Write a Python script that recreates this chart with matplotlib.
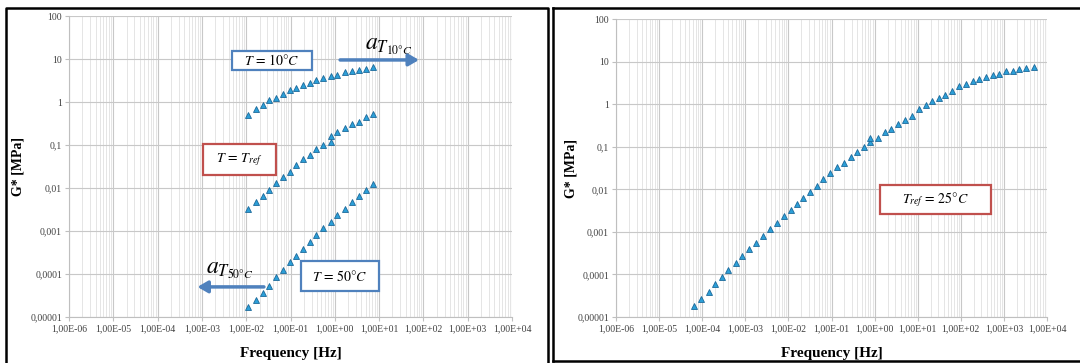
import matplotlib.pyplot as plt
from matplotlib.patches import Rectangle
from matplotlib.lines import Line2D
from matplotlib.ticker import FixedLocator, FixedFormatter, LogLocator, NullFormatter

# frequency sweeps at three temperatures (left panel)
freq_left = [0.011, 0.0163, 0.024, 0.0324, 0.046, 0.067, 0.095, 0.135, 0.19, 0.27,
             0.38, 0.55, 0.81, 1.12, 1.7, 2.4, 3.5, 5.0, 7.3]
g_10 = [0.51, 0.69, 0.85, 1.09, 1.24, 1.5, 1.9, 2.1, 2.5, 2.8,
        3.2, 3.6, 4.0, 4.3, 4.9, 5.4, 5.6, 6.0, 6.6]
freq_ref = [0.011, 0.0163, 0.024, 0.0324, 0.046, 0.067, 0.095, 0.135, 0.19, 0.27,
            0.38, 0.55, 0.81, 0.81, 1.12, 1.7, 2.4, 3.5, 5.0, 7.3]
g_ref = [0.0032, 0.0047, 0.0065, 0.0091, 0.0134, 0.018, 0.024, 0.035, 0.047, 0.06,
         0.08, 0.1, 0.12, 0.16, 0.2, 0.25, 0.30, 0.35, 0.45, 0.53]
g_50 = [1.74e-5, 2.5e-5, 3.6e-5, 5.4e-5, 8.3e-5, 1.22e-4, 1.87e-4, 2.6e-4, 3.8e-4, 5.5e-4,
        7.9e-4, 1.15e-3, 1.6e-3, 2.3e-3, 3.3e-3, 4.8e-3, 6.6e-3, 9.1e-3, 1.26e-2]

# master curve at Tref = 25 C (right panel)
freq_master = [6.4e-5, 9.6e-5, 1.43e-4, 2.0e-4, 2.9e-4, 4.0e-4, 6.0e-4, 8.6e-4, 1.23e-3, 1.8e-3,
               2.6e-3, 3.7e-3, 5.3e-3, 7.7e-3, 1.12e-2, 1.55e-2, 2.2e-2, 3.2e-2, 4.5e-2, 6.5e-2,
               9.3e-2, 0.133, 0.19, 0.28, 0.40, 0.57, 0.79, 0.79, 1.17, 1.7,
               2.4, 3.4, 5.1, 7.3, 11, 15.6, 22, 31, 44, 63,
               89, 133, 190, 270, 390, 550, 790, 1130, 1600, 2300,
               3300, 4900]
g_master = [1.8e-5, 2.6e-5, 3.9e-5, 5.8e-5, 8.6e-5, 1.26e-4, 1.9e-4, 2.7e-4, 3.9e-4, 5.5e-4,
            8.1e-4, 1.15e-3, 1.63e-3, 2.3e-3, 3.2e-3, 4.5e-3, 6.4e-3, 8.7e-3, 1.2e-2, 1.74e-2,
            0.0237, 0.033, 0.042, 0.057, 0.076, 0.1, 0.13, 0.16, 0.16, 0.22,
            0.26, 0.34, 0.42, 0.53, 0.78, 0.95, 1.18, 1.41, 1.65, 2.05,
            2.6, 3.0, 3.5, 4.0, 4.3, 4.8, 5.2, 5.9, 6.1, 6.7,
            6.9, 7.4]

x_ticks = [1e-6, 1e-5, 1e-4, 1e-3, 1e-2, 1e-1, 1e0, 1e1, 1e2, 1e3, 1e4]
x_labels = ['1,00E-06', '1,00E-05', '1,00E-04', '1,00E-03', '1,00E-02', '1,00E-01',
            '1,00E+00', '1,00E+01', '1,00E+02', '1,00E+03', '1,00E+04']
y_ticks = [1e-5, 1e-4, 1e-3, 1e-2, 1e-1, 1, 10, 100]
y_labels = ['0,00001', '0,0001', '0,001', '0,01', '0,1', '1', '10', '100']

BLUE = '#4F81BD'
RED = '#C0504D'
MARKER = dict(linestyle='none', marker='^', markersize=4.2,
              markerfacecolor='#2C9FD8', markeredgecolor='#1D6A9A', markeredgewidth=0.6)


def style_axes(ax):
    ax.set_xscale('log')
    ax.set_yscale('log')
    ax.set_xlim(1e-6, 1e4)
    ax.set_ylim(1e-5, 100)
    ax.xaxis.set_major_locator(FixedLocator(x_ticks))
    ax.xaxis.set_major_formatter(FixedFormatter(x_labels))
    ax.xaxis.set_minor_locator(LogLocator(base=10, subs=range(2, 10), numticks=20))
    ax.xaxis.set_minor_formatter(NullFormatter())
    ax.yaxis.set_major_locator(FixedLocator(y_ticks))
    ax.yaxis.set_major_formatter(FixedFormatter(y_labels))
    ax.yaxis.set_minor_locator(FixedLocator([]))
    ax.grid(which='major', color='#C8C8C8', linewidth=0.8)
    ax.grid(which='minor', axis='x', color='#E0E0E0', linewidth=0.6)
    ax.set_axisbelow(True)
    for side in ['top', 'right']:
        ax.spines[side].set_visible(False)
    for side in ['left', 'bottom']:
        ax.spines[side].set_color('#BFBFBF')
        ax.spines[side].set_linewidth(0.8)
    ax.tick_params(which='major', length=3, color='#BFBFBF', labelsize=7,
                   labelcolor='#404040', pad=2)
    ax.tick_params(which='minor', length=0)
    for lab in ax.get_xticklabels() + ax.get_yticklabels():
        lab.set_family('Liberation Serif')
    ax.set_xlabel('Frequency [Hz]', family='Liberation Serif', weight='bold',
                  fontsize=11, labelpad=10)
    ax.set_ylabel('G* [MPa]', family='Liberation Serif', weight='bold',
                  fontsize=10, labelpad=8)


def box(ax, x0, y0, x1, y1, text, color, size=10):
    ax.add_patch(Rectangle((x0, y0), x1 - x0, y1 - y0, transform=ax.transAxes,
                           facecolor='white', edgecolor=color, linewidth=1.6,
                           zorder=5, clip_on=False))
    ax.text((x0 + x1) / 2, (y0 + y1) / 2, text, transform=ax.transAxes,
            ha='center', va='center', fontsize=size, zorder=6)


def arrow(ax, start, end):
    ax.annotate('', xy=end, xytext=start, xycoords='axes fraction',
                arrowprops=dict(arrowstyle='-|>,head_length=0.6,head_width=0.35',
                                color=BLUE, linewidth=2.5, shrinkA=0, shrinkB=0),
                zorder=6)


def main():
    plt.rcParams['mathtext.fontset'] = 'stix'
    fig = plt.figure(figsize=(10.8, 3.63), dpi=100)

    # left panel: raw sweeps
    ax1 = fig.add_axes([69 / 1080, 1 - 317 / 363, 443 / 1080, 301 / 363])
    style_axes(ax1)
    ax1.yaxis.set_label_coords(-0.10, 0.5)
    ax1.plot(freq_left, g_10, **MARKER)
    ax1.plot(freq_ref, g_ref, **MARKER)
    ax1.plot(freq_left, g_50, **MARKER)

    box(ax1, 0.368, 0.821, 0.549, 0.884, r'$T\,=\,10°C$', BLUE)
    box(ax1, 0.302, 0.472, 0.467, 0.575, r'$T\,=\,T_{ref}$', RED)
    box(ax1, 0.524, 0.086, 0.700, 0.186, r'$T\,=\,50°C$', BLUE)
    arrow(ax1, (0.612, 0.854), (0.790, 0.854))
    arrow(ax1, (0.440, 0.100), (0.290, 0.100))
    ax1.text(0.722, 0.905, r'$a_{T_{10°C}}$', transform=ax1.transAxes,
             ha='center', va='center', fontsize=17)
    ax1.text(0.363, 0.160, r'$a_{T_{50°C}}$', transform=ax1.transAxes,
             ha='center', va='center', fontsize=17)

    # right panel: master curve
    ax2 = fig.add_axes([616 / 1080, 1 - 317 / 363, 431 / 1080, 298 / 363])
    style_axes(ax2)
    ax2.yaxis.set_label_coords(-0.09, 0.5)
    ax2.plot(freq_master, g_master, **MARKER)
    box(ax2, 0.613, 0.346, 0.870, 0.443, r'$T_{ref}\,=\,25°C$', RED)

    # panel frames
    W, H = 1080, 363
    def frame(xs, ys):
        fig.add_artist(Line2D([x / W for x in xs], [1 - y / H for y in ys],
                              transform=fig.transFigure, color='black', linewidth=1.8))
    frame([6, 6, 548, 548], [363, 8, 8, 363])
    frame([553, 553, 1080], [8, 8, 8])
    frame([553, 553], [8, 361])
    frame([553, 1080], [361, 361])

    fig.savefig('out.png', dpi=100)


if __name__ == "__main__":
    main()
